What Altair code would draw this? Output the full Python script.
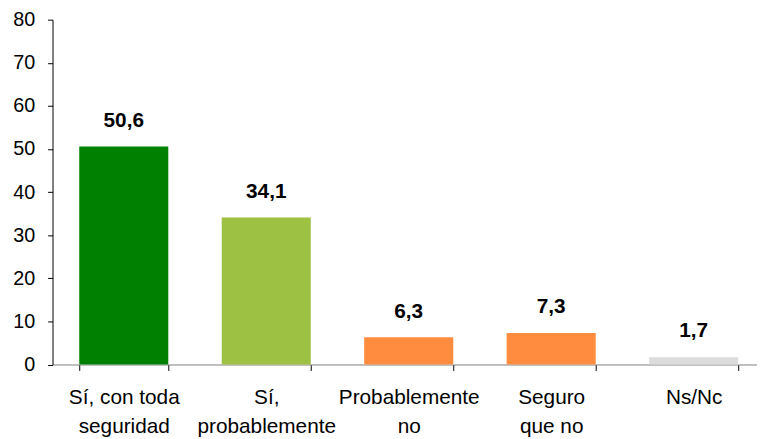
import altair as alt
import pandas as pd

categories = ["Sí, con toda|seguridad", "Sí,|probablemente", "Probablemente|no", "Seguro|que no", "Ns/Nc"]
values = [50.6, 34.1, 6.3, 7.3, 1.7]
labels = ["50,6", "34,1", "6,3", "7,3", "1,7"]
colors = ["#008000", "#9DC143", "#FF8C3F", "#FF8C3F", "#DCDCDC"]

df = pd.DataFrame({"cat": categories, "val": values, "lab": labels, "col": colors})

FONT = "Liberation Sans"

x = alt.X("cat:N", sort=None, title=None,
          scale=alt.Scale(paddingInner=0.375, paddingOuter=0.1875),
          axis=alt.Axis(labelAngle=0, labelFontSize=21, labelFont=FONT, labelColor="black",
                        labelExpr="split(datum.label, '|')", labelLineHeight=30,
                        labelPadding=16, tickBand="extent", tickSize=6, tickColor="black",
                        domainColor="#808080", labelLimit=300))
y = alt.Y("val:Q", title=None,
          scale=alt.Scale(domain=[0, 80], nice=False),
          axis=alt.Axis(values=list(range(0, 81, 10)), grid=False, labelFontSize=20, labelFont=FONT,
                        labelColor="black", labelPadding=13, tickSize=5, tickColor="black",
                        domainColor="black"))

bars = alt.Chart(df).mark_bar().encode(
    x=x, y=y, color=alt.Color("col:N", scale=None))

text = alt.Chart(df).mark_text(fontSize=21, fontWeight="bold", font=FONT, color="black",
                               baseline="alphabetic", dy=-20).encode(
    x=alt.X("cat:N", sort=None), y="val:Q", text="lab:N")

chart = (bars + text).properties(
    width=720, height=348.5,
    autosize=alt.AutoSizeParams(type="none"),
    padding={"left": 45, "top": 9.5, "right": -8, "bottom": 73}
).configure_view(stroke=None)

chart.save("out.html", embed_options={"renderer": "svg", "actions": False})
